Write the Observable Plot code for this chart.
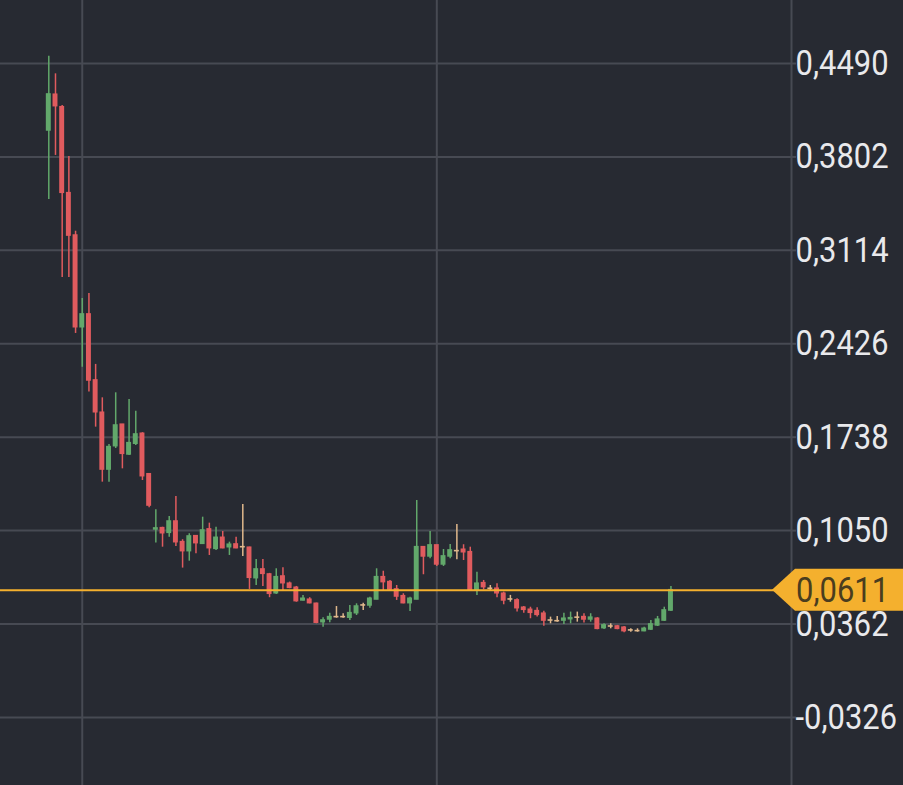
<!DOCTYPE html>
<html><head><meta charset="utf-8">
<script src="https://cdn.jsdelivr.net/npm/d3@7"></script>
<script src="https://cdn.jsdelivr.net/npm/@observablehq/plot@0.6"></script>
<style>
html,body{margin:0;padding:0;background:#272a32;overflow:hidden}
#chart{width:903px;height:785px}
</style></head><body><div id="chart"></div>
<script>
const open = [0.3997,0.4260,0.4168,0.3535,0.3223,0.2548,0.2642,0.2156,0.1918,0.1500,
0.1672,0.1830,0.1611,0.1690,0.1763,0.1465,0.1059,0.1068,0.1034,0.1117,
0.0965,0.0899,0.1009,0.0953,0.1059,0.0916,0.0997,0.0928,0.0948,0.0928,
0.0924,0.0700,0.0764,0.0727,0.0589,0.0712,0.0659,0.0629,0.0536,0.0541,
0.0511,0.0376,0.0396,0.0413,0.0413,0.0409,0.0442,0.0499,0.0499,0.0543,
0.0707,0.0671,0.0617,0.0567,0.0516,0.0543,0.0928,0.0860,0.0941,0.0801,
0.0860,0.0899,0.0909,0.0891,0.0609,0.0663,0.0622,0.0622,0.0585,0.0543,
0.0536,0.0482,0.0467,0.0457,0.0438,0.0388,0.0383,0.0388,0.0398,0.0409,
0.0413,0.0396,0.0401,0.0332,0.0344,0.0344,0.0335,0.0315,0.0310,0.0310,
0.0322,0.0352,0.0388,0.0462];
const close = [0.4262,0.4176,0.3538,0.3223,0.2548,0.2642,0.2156,0.1922,0.1500,0.1665,
0.1824,0.1616,0.1694,0.1758,0.1451,0.1235,0.1066,0.1031,0.1117,0.0965,
0.0899,0.1007,0.0958,0.1051,0.0921,0.0997,0.0921,0.0946,0.0921,0.0928,
0.0703,0.0764,0.0732,0.0585,0.0707,0.0663,0.0629,0.0531,0.0548,0.0516,
0.0372,0.0388,0.0413,0.0413,0.0413,0.0442,0.0491,0.0499,0.0548,0.0707,
0.0671,0.0617,0.0565,0.0516,0.0548,0.0928,0.0860,0.0941,0.0801,0.0860,
0.0904,0.0899,0.0891,0.0609,0.0659,0.0634,0.0622,0.0589,0.0536,0.0543,
0.0479,0.0467,0.0445,0.0430,0.0388,0.0388,0.0383,0.0401,0.0405,0.0409,
0.0396,0.0409,0.0327,0.0352,0.0344,0.0327,0.0310,0.0315,0.0310,0.0327,
0.0359,0.0394,0.0462,0.0611];
const high = [0.4544,0.4414,0.4180,0.3805,0.3255,0.2760,0.2796,0.2274,0.2028,0.1684,
0.2065,0.1832,0.2016,0.1930,0.1771,0.1469,0.1204,0.1075,0.1154,0.1302,
0.0983,0.1027,0.1014,0.1149,0.1105,0.1075,0.1044,0.0965,0.1002,0.1243,
0.0928,0.0838,0.0838,0.0735,0.0769,0.0776,0.0671,0.0639,0.0573,0.0556,
0.0516,0.0408,0.0442,0.0491,0.0438,0.0499,0.0511,0.0516,0.0560,0.0769,
0.0751,0.0683,0.0646,0.0585,0.0560,0.1272,0.0933,0.1044,0.0941,0.0911,
0.0948,0.1095,0.0946,0.0928,0.0744,0.0683,0.0646,0.0659,0.0597,0.0573,
0.0548,0.0491,0.0486,0.0482,0.0457,0.0413,0.0418,0.0442,0.0450,0.0450,
0.0438,0.0438,0.0409,0.0364,0.0364,0.0352,0.0344,0.0327,0.0327,0.0339,
0.0388,0.0418,0.0486,0.0639];
const low = [0.3489,0.3813,0.2914,0.2914,0.2502,0.2254,0.2070,0.1812,0.1407,0.1407,
0.1655,0.1505,0.1603,0.1677,0.1419,0.1218,0.0958,0.0928,0.1002,0.0933,
0.0774,0.0825,0.0880,0.0948,0.0867,0.0904,0.0916,0.0867,0.0916,0.0860,
0.0617,0.0646,0.0639,0.0556,0.0580,0.0609,0.0622,0.0523,0.0531,0.0511,
0.0364,0.0339,0.0372,0.0405,0.0405,0.0388,0.0425,0.0462,0.0479,0.0541,
0.0609,0.0609,0.0536,0.0511,0.0455,0.0541,0.0725,0.0843,0.0786,0.0786,
0.0843,0.0835,0.0830,0.0604,0.0573,0.0614,0.0609,0.0556,0.0504,0.0523,
0.0450,0.0442,0.0401,0.0413,0.0346,0.0364,0.0376,0.0359,0.0364,0.0376,
0.0369,0.0376,0.0320,0.0322,0.0327,0.0320,0.0298,0.0302,0.0302,0.0305,
0.0315,0.0344,0.0381,0.0455];
const yTicks = [0.4490,0.3802,0.3114,0.2426,0.1738,0.1050,0.0362,-0.0326];
const periodStarts = [5, 58];

const BG = "#272a32", GRID = "#474a53", TXT = "#e9e9ec", ORANGE = "#f4b02e";
const data = open.map((o, i) => ({
  i, open: o, high: high[i], low: low[i], close: close[i],
  dir: close[i] > o ? "up" : close[i] < o ? "down" : "flat"
}));
const last = close[close.length - 1];
const fmt = v => d3.format(".4f")(v).replace(".", ",").replace("\u2212", "-");

const tag = (index, scales, values, dims) => {
  const y = scales.y(last);
  const x0 = dims.width - dims.marginRight;
  const g = d3.create("svg:g");
  g.append("path")
    .attr("d", `M${x0 - 19},${y} L${x0 + 4},${y - 21} L${dims.width},${y - 21} L${dims.width},${y + 21} L${x0 + 4},${y + 21} Z`)
    .attr("fill", ORANGE);
  g.append("text")
    .attr("transform", `translate(${x0 + 5},${y}) scale(0.86,1)`)
    .attr("dy", "0.34em")
    .attr("text-anchor", "start")
    .attr("font-size", 36)
    .attr("font-family", "Roboto")
    .attr("fill", "#4a3d1e")
    .text(fmt(last));
  return g.node();
};

const chart = Plot.plot({
  width: 903, height: 785,
  marginLeft: 0, marginRight: 112, marginTop: 0, marginBottom: 0,
  style: {background: BG, fontFamily: "Roboto"},
  x: {type: "linear", domain: [-7.22, 111.02], axis: null},
  y: {domain: [-0.0827, 0.4954], axis: null},
  color: {domain: ["up", "down", "flat"], range: ["#62a86b", "#e05b5e", "#e0b88c"]},
  marks: [
    Plot.gridY(yTicks, {stroke: GRID, strokeOpacity: 1, strokeWidth: 2}),
    Plot.ruleX(periodStarts, {stroke: GRID, strokeOpacity: 1, strokeWidth: 2}),
    Plot.frame({anchor: "right", stroke: GRID, strokeWidth: 2}),
    Plot.ruleX(data, {x: "i", y1: "low", y2: "high", stroke: "dir", strokeWidth: 1.5}),
    Plot.rect(data, {
      x1: d => d.i - 0.37, x2: d => d.i + 0.37,
      y1: d => Math.min(d.open, d.close), y2: d => Math.max(d.open, d.close),
      fill: "dir", insetTop: -0.8, insetBottom: -0.8
    }),
    Plot.ruleY([last], {stroke: ORANGE, strokeWidth: 2}),
    tag,
    Plot.axisY(yTicks, {anchor: "right", tickSize: 4, tickPadding: 0, tickFormat: fmt,
      fontSize: 36, stroke: GRID, strokeWidth: 2, fill: TXT, label: null})
  ]
});
document.getElementById("chart").appendChild(chart);
chart.querySelectorAll('g[aria-label="y-axis tick label"] text').forEach(t => {
  const tr = t.getAttribute("transform") || "";
  t.setAttribute("transform", tr + " scale(0.86,1)");
});
</script></body></html>
